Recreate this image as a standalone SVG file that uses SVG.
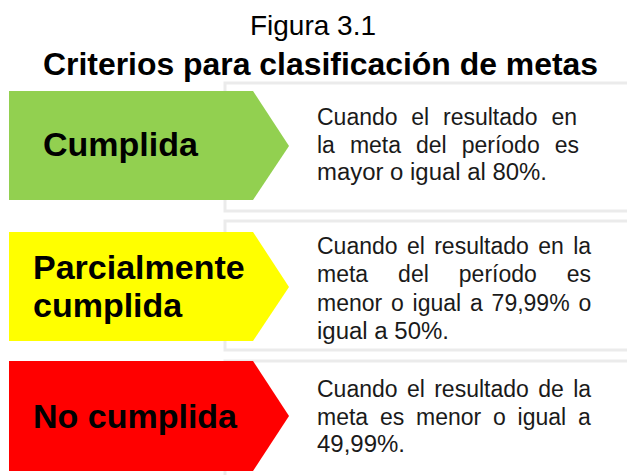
<svg xmlns="http://www.w3.org/2000/svg" width="627" height="475" viewBox="0 0 627 475">
<style>
.title{font-family:"Liberation Sans",Arial,sans-serif;fill:#000;text-anchor:middle}
.box{fill:#fff;stroke:#ebebeb;stroke-width:3}
.lbl{font-family:"Liberation Sans",Arial,sans-serif;font-weight:bold;font-size:34px;fill:#000}
.desc{font-family:"Liberation Sans",Arial,sans-serif;font-size:23px;fill:#1a1a1a}
</style>
<rect width="627" height="475" fill="#fff"/>
<text class="title" x="313" y="35" font-size="28">Figura 3.1</text>
<text class="title" x="320.5" y="75" font-size="32" font-weight="bold" textLength="555" lengthAdjust="spacingAndGlyphs">Criterios para clasificación de metas</text>

<g id="node-cumplida">
<rect class="box" x="225" y="83" width="420" height="128"/>
<polygon points="9,91 253,91 289,146 253,200 9,200" fill="#92d050"/>
<text class="lbl" x="43" y="156">Cumplida</text>
<text class="desc" y="125"><tspan x="317">Cuando</tspan><tspan x="411.3">el</tspan><tspan x="443">resultado</tspan><tspan x="551.4">en</tspan></text>
<text class="desc" y="153"><tspan x="317">la</tspan><tspan x="349.9">meta</tspan><tspan x="416">del</tspan><tspan x="461.7">período</tspan><tspan x="554.7">es</tspan></text>
<text class="desc" x="317" y="180" textLength="230" lengthAdjust="spacingAndGlyphs">mayor o igual al 80%.</text>
</g>

<g id="node-parcial">
<rect class="box" x="225" y="221" width="420" height="129"/>
<polygon points="9,232 253,232 289,287 253,341 9,341" fill="#ffff00"/>
<text class="lbl" x="33" y="279">Parcialmente</text>
<text class="lbl" x="33" y="317">cumplida</text>
<text class="desc" y="254"><tspan x="317">Cuando</tspan><tspan x="406.9">el</tspan><tspan x="434.2">resultado</tspan><tspan x="538.2">en</tspan><tspan x="573.2">la</tspan></text>
<text class="desc" y="282"><tspan x="317">meta</tspan><tspan x="398.1">del</tspan><tspan x="458.8">período</tspan><tspan x="566.8">es</tspan></text>
<text class="desc" y="311"><tspan x="317">menor</tspan><tspan x="391">o</tspan><tspan x="412.6">igual</tspan><tspan x="470">a</tspan><tspan x="491.6">79,99%</tspan><tspan x="578.4">o</tspan></text>
<text class="desc" x="317" y="339" textLength="132" lengthAdjust="spacingAndGlyphs">igual a 50%.</text>
</g>

<g id="node-nocumplida">
<rect class="box" x="225" y="361" width="420" height="130"/>
<polygon points="9,361 253,361 289,416 253,471 9,471" fill="#ff0000"/>
<text class="lbl" x="33" y="428">No cumplida</text>
<text class="desc" y="397"><tspan x="317">Cuando</tspan><tspan x="406.9">el</tspan><tspan x="434.2">resultado</tspan><tspan x="538.2">de</tspan><tspan x="573.2">la</tspan></text>
<text class="desc" y="425"><tspan x="317">meta</tspan><tspan x="379.9">es</tspan><tspan x="416">menor</tspan><tspan x="493">o</tspan><tspan x="517.6">igual</tspan><tspan x="578">a</tspan></text>
<text class="desc" x="317" y="452" textLength="88" lengthAdjust="spacingAndGlyphs">49,99%.</text>
</g>

<g id="connectors"></g>
</svg>
